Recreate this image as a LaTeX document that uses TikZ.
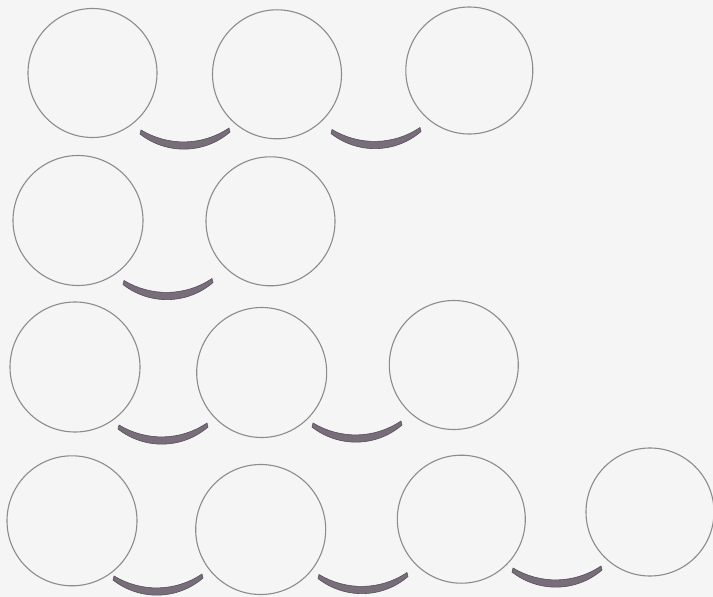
\documentclass[tikz,border=0pt]{standalone}
\definecolor{paper}{RGB}{245,245,245}
\definecolor{ringcol}{RGB}{140,140,140}
\definecolor{crescfill}{RGB}{120,110,122}
\definecolor{crescline}{RGB}{88,78,92}
\tikzset{
  ring/.style={circle, draw=ringcol, line width=1.1pt, inner sep=0pt, outer sep=0pt},
  crescent/.pic={
    \filldraw[fill=crescfill, draw=crescline, line width=0.6pt, line join=round]
      (-45,-15) .. controls (-19,5.5) and (19,5.5) .. (45,-17)
      -- (44,-21) .. controls (17,-2.8) and (-17,-2.8) .. (-44,-19) -- cycle;
  }
}
\begin{document}
\begin{tikzpicture}[x=1pt,y=-1pt]
\fill[paper] (0,0) rectangle (713,597);
\useasboundingbox (0,0) rectangle (713,597);
% row 1
\node[ring, minimum size=129pt] (a1) at (92.5,73) {};
\node[ring, minimum size=129pt] (a2) at (277,74.3) {};
\node[ring, minimum size=127pt] (a3) at (469.3,70.5) {};
% row 2
\node[ring, minimum size=130pt] (b1) at (78,220.5) {};
\node[ring, minimum size=129pt] (b2) at (270.5,221.3) {};
% row 3
\node[ring, minimum size=130pt] (c1) at (75,367) {};
\node[ring, minimum size=130pt] (c2) at (261.7,372.5) {};
\node[ring, minimum size=129pt] (c3) at (453.8,365) {};
% row 4
\node[ring, minimum size=130pt] (d1) at (72,520.8) {};
\node[ring, minimum size=130pt] (d2) at (260.7,529.5) {};
\node[ring, minimum size=128pt] (d3) at (461.3,519.2) {};
\node[ring, minimum size=128pt] (d4) at (650,512) {};
% crescents
\pic at (185,149) {crescent};
\pic at (376,148.5) {crescent};
\pic at (168,299.5) {crescent};
\pic at (163,444) {crescent};
\pic at (357,442) {crescent};
\pic at (158,595) {crescent};
\pic at (363,593.5) {crescent};
\pic at (557,587) {crescent};
\end{tikzpicture}
\end{document}
